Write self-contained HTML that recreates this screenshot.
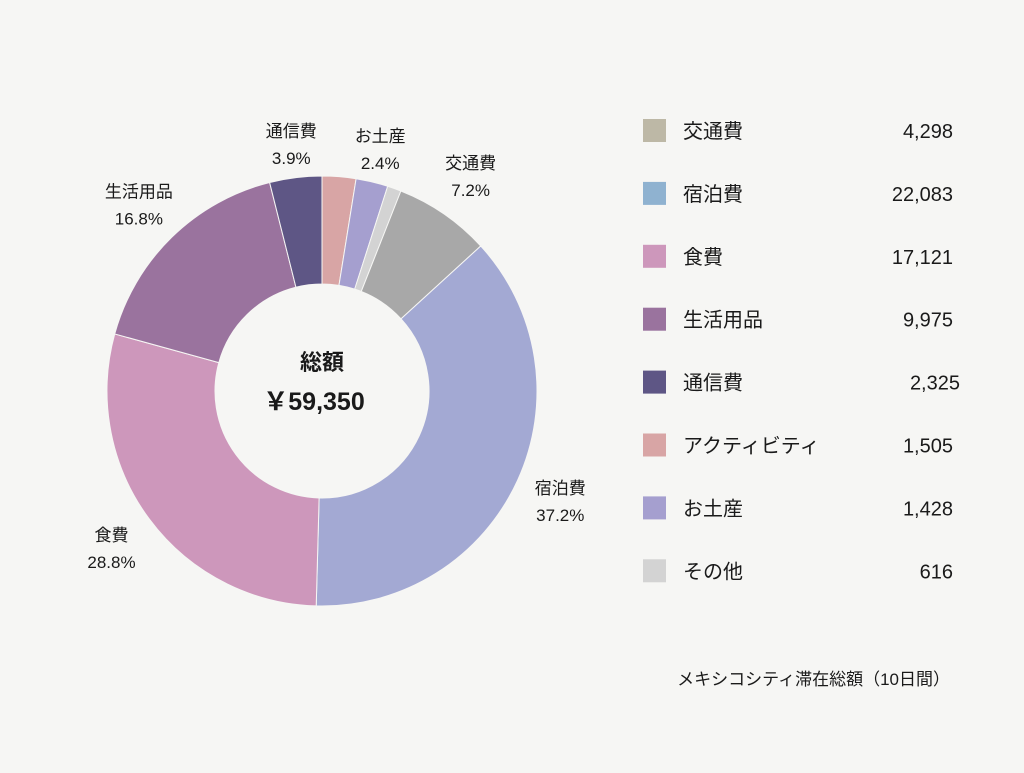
<!DOCTYPE html>
<html><head><meta charset="utf-8">
<style>
body{margin:0;background:#f6f6f4;font-family:"Liberation Sans","Noto Sans CJK JP",sans-serif;}
svg text{font-family:"Liberation Sans","Noto Sans CJK JP",sans-serif;fill:#1a1a1a;}
</style></head>
<body>
<svg id="c" width="1024" height="768" viewBox="0 0 1024 768" xmlns="http://www.w3.org/2000/svg">
<rect width="1024" height="768" fill="#f6f6f4"/>
<g id="slices"></g>
<g id="labels"></g>
<g id="legend"></g>
<text x="322" y="370" text-anchor="middle" font-size="22" font-weight="bold">総額</text>
<text x="314" y="410" text-anchor="middle" font-size="25" font-weight="bold">￥59,350</text>
<text x="950" y="685" text-anchor="end" font-size="17">メキシコシティ滞在総額（10日間）</text>
</svg>
<script>
const sliceNames = ["アクティビティ","お土産","その他","交通費","宿泊費","食費","生活用品","通信費"];
const sliceValues = [1505,1428,616,4298,22083,17121,9975,2325];
const sliceColors = ["#d8a5a5","#a59fcf","#d3d3d3","#a8a8a8","#a3a9d3","#cd97bb","#9a739e","#5e5685"];
const labelNames = ["通信費","お土産","交通費","生活用品","宿泊費","食費"];
const labelPercents = ["3.9%","2.4%","7.2%","16.8%","37.2%","28.8%"];
const legendNames = ["交通費","宿泊費","食費","生活用品","通信費","アクティビティ","お土産","その他"];
const legendValues = ["4,298","22,083","17,121","9,975","2,325","1,505","1,428","616"];
const legendColors = ["#bdb8a6","#8fb2d0","#cd97bb","#9a739e","#5e5685","#d8a5a5","#a59fcf","#d3d3d3"];

const NS="http://www.w3.org/2000/svg";
const cx=322,cy=391,R=215,r=107;
const total=sliceValues.reduce((a,b)=>a+b,0);
function pt(a,rad){return [cx+rad*Math.sin(a),cy-rad*Math.cos(a)];}
let acc=0;
const mids={};
const sg=document.getElementById('slices');
sliceValues.forEach((v,i)=>{
  const a0=acc/total*2*Math.PI; acc+=v; const a1=acc/total*2*Math.PI;
  mids[sliceNames[i]]=(a0+a1)/2;
  const large=(a1-a0)>Math.PI?1:0;
  const p0=pt(a0,R),p1=pt(a1,R),q1=pt(a1,r),q0=pt(a0,r);
  const d=`M${p0}A${R},${R} 0 ${large} 1 ${p1}L${q1}A${r},${r} 0 ${large} 0 ${q0}Z`;
  const p=document.createElementNS(NS,'path');
  p.setAttribute('d',d);p.setAttribute('fill',sliceColors[i]);
  p.setAttribute('stroke','#f6f6f4');p.setAttribute('stroke-width','1');
  
  
  sg.appendChild(p);
});
const lg=document.getElementById('labels');
labelNames.forEach((n,i)=>{
  const a=mids[n];
  let rad = 262;
  if(n==="通信費"||n==="お土産") rad=250;
  const [x,y]=pt(a,rad);
  const t=document.createElementNS(NS,'text');
  t.setAttribute('x',x);t.setAttribute('y',y-6);t.setAttribute('text-anchor','middle');t.setAttribute('font-size','17');
  
  
  const s1=document.createElementNS(NS,'tspan');s1.setAttribute('x',x);s1.textContent=n;
  const s2=document.createElementNS(NS,'tspan');s2.setAttribute('x',x);s2.setAttribute('dy','27');s2.textContent=labelPercents[i];
  t.appendChild(s1);t.appendChild(s2);lg.appendChild(t);
});
const leg=document.getElementById('legend');
legendNames.forEach((n,i)=>{
  const y=131+i*62.9;
  const g=document.createElementNS(NS,'g');
  
  
  const rc=document.createElementNS(NS,'rect');
  rc.setAttribute('x',643);rc.setAttribute('y',y-12);rc.setAttribute('width',23);rc.setAttribute('height',23);rc.setAttribute('fill',legendColors[i]);
  const t=document.createElementNS(NS,'text');
  t.setAttribute('x',683);t.setAttribute('y',y+7);t.setAttribute('font-size','20');t.textContent=n;
  const tv=document.createElementNS(NS,'text');
  tv.setAttribute('x',n==="通信費"?960:953);tv.setAttribute('y',y+7);tv.setAttribute('font-size','20');tv.setAttribute('text-anchor','end');tv.textContent=legendValues[i];
  g.appendChild(rc);g.appendChild(t);g.appendChild(tv);leg.appendChild(g);
});
</script>
</body></html>
